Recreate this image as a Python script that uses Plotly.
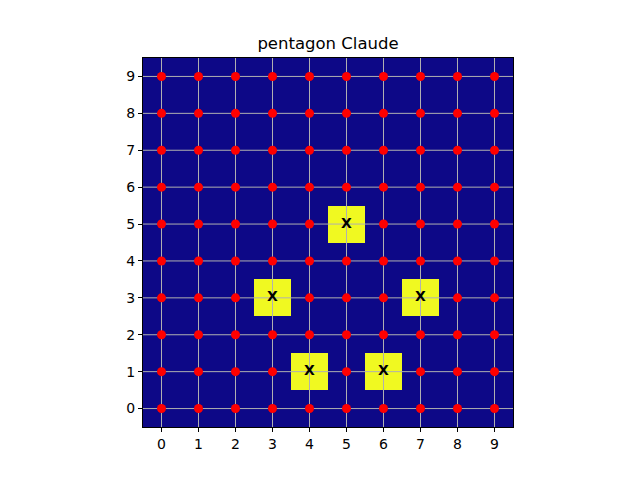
import plotly.graph_objects as go

n = 10
ticks = list(range(n))
tick_labels = [str(t) for t in ticks]
# marked cells (x, y)
mark_x = [3, 4, 5, 6, 7]
mark_y = [3, 1, 5, 1, 3]
mark_text = ["X", "X", "X", "X", "X"]
title = "pentagon Claude"

marked = set(zip(mark_x, mark_y))
z = [[1 if (c, r) in marked else 0 for c in ticks] for r in ticks]
dot_x = [c for r in ticks for c in ticks if (c, r) not in marked]
dot_y = [r for r in ticks for c in ticks if (c, r) not in marked]

fig = go.Figure()
fig.add_trace(go.Heatmap(z=z, x=ticks, y=ticks, zmin=0, zmax=1,
                         colorscale=[[0, "#0d0887"], [1, "#f0f921"]],
                         showscale=False, hoverinfo="skip"))
gx, gy = [], []
for t in ticks:
    gx += [t, t, None]
    gy += [-0.5, 9.5, None]
    gx += [-0.5, 9.5, None]
    gy += [t, t, None]
fig.add_trace(go.Scatter(x=gx, y=gy, mode="lines",
                         line=dict(color="#b0b0b0", width=1), hoverinfo="skip"))
fig.add_trace(go.Scatter(x=dot_x, y=dot_y, mode="markers",
                         marker=dict(color="#ff0000", size=9, line=dict(width=0))))
fig.add_trace(go.Scatter(x=mark_x, y=mark_y, mode="text", text=mark_text,
                         textfont=dict(family="DejaVu Sans", size=14, color="black", weight="bold")))

axis_common = dict(range=[-0.5, 9.5], tickmode="array", tickvals=ticks, ticktext=tick_labels,
                   showgrid=False, zeroline=False, showline=True, linecolor="black",
                   linewidth=1, mirror=True, ticks="outside", ticklen=4, tickcolor="black",
                   tickfont=dict(family="DejaVu Sans", size=14, color="black"))
fig.update_xaxes(**axis_common)
fig.update_yaxes(**axis_common)
fig.update_layout(
    width=640, height=480, showlegend=False,
    margin=dict(l=143, r=127, t=58, b=53),
    paper_bgcolor="white", plot_bgcolor="white",
    title=dict(text=title, xref="paper", x=0.5, xanchor="center", y=1 - 43 / 480, yanchor="middle",
               font=dict(family="DejaVu Sans", size=16.5, color="black")),
)
fig.write_html("out.html")
